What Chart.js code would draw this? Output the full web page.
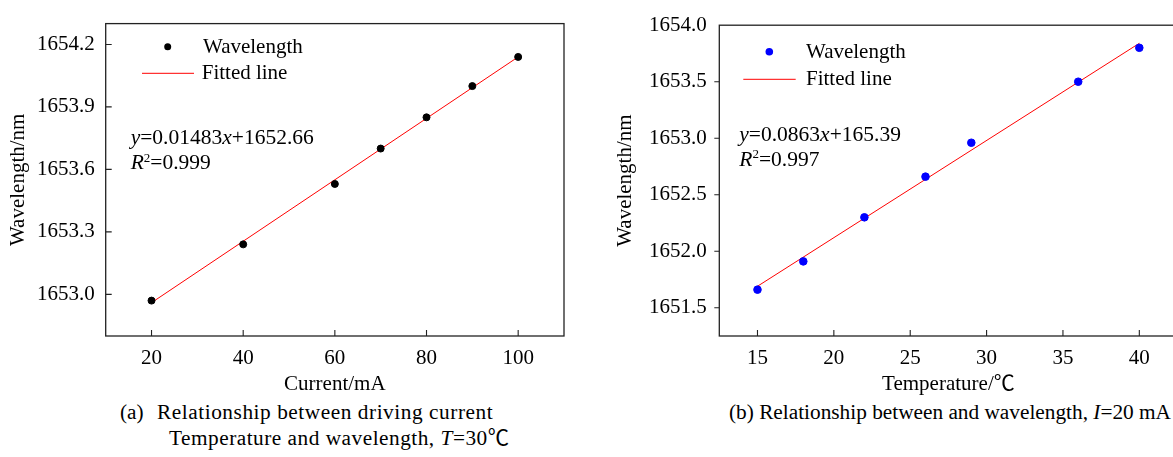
<!DOCTYPE html>
<html>
<head>
<meta charset="utf-8">
<script src="https://cdn.jsdelivr.net/npm/chart.js@4"></script>
<style>
  html, body { margin: 0; padding: 0; background: #fff; overflow: hidden; }
  body { width: 1173px; height: 457px; position: relative; font-family: 'Liberation Serif', 'Noto Sans CJK SC', serif; }
  #chartA { position: absolute; left: 0; top: 0; }
  #chartB { position: absolute; left: 588px; top: 0; }
  .cap { position: absolute; font-size: 21.3px; line-height: 24px; white-space: nowrap; color: #000; }
</style>
</head>
<body>
<canvas id="chartA" width="588" height="400"></canvas>
<canvas id="chartB" width="612" height="400"></canvas>
<div class="cap" style="left:120px; top:400px;">(a)</div>
<div class="cap" style="left:157px; top:400px; letter-spacing:0.55px;">Relationship between driving current</div>
<div class="cap" style="left:169px; top:426px; letter-spacing:0.5px;">Temperature and wavelength, <i>T</i>=30℃</div>
<div class="cap" style="left:729px; top:400px;">(b) Relationship between and wavelength, <i>I</i>=20 mA</div>

<script>
// (a) current sweep
const currentMA = [20, 40, 60, 70, 80, 90, 100];
const wavelengthA = [1652.97, 1653.24, 1653.53, 1653.70, 1653.85, 1654.00, 1654.14];
const fitXA = [20, 100];
const fitYA = [1652.96, 1654.14];
const xTicksA = [20, 40, 60, 80, 100];
const yTicksA = [1653.0, 1653.3, 1653.6, 1653.9, 1654.2];

// (b) temperature sweep
const tempC = [15, 18, 22, 26, 29, 36, 40];
const wavelengthB = [1651.66, 1651.91, 1652.30, 1652.66, 1652.96, 1653.50, 1653.80];
const fitXB = [15, 40];
const fitYB = [1651.69, 1653.84];
const xTicksB = [15, 20, 25, 30, 35, 40];
const yTicksB = [1651.5, 1652.0, 1652.5, 1653.0, 1653.5, 1654.0];

const FONT = "'Liberation Serif', 'Noto Sans CJK SC', serif";
const tickFont = { family: FONT, size: 21 };

const toPoints = (xs, ys) => xs.map((x, i) => ({ x: x, y: ys[i] }));

// box around plot area + tick marks (inward / outward)
const framePlugin = {
  id: 'frame',
  afterDatasetsDraw(chart, args, opts) {
    const { ctx, chartArea: a, scales } = chart;
    ctx.save();
    ctx.strokeStyle = '#222';
    ctx.lineWidth = 1.3;
    ctx.strokeRect(a.left, a.top, a.right - a.left, a.bottom - a.top);
    ctx.lineWidth = 1.1;
    ctx.beginPath();
    scales.x.ticks.forEach(t => {
      const px = scales.x.getPixelForValue(t.value);
      ctx.moveTo(px, a.bottom);
      ctx.lineTo(px, a.bottom - 6);
    });
    scales.y.ticks.forEach(t => {
      const py = scales.y.getPixelForValue(t.value);
      if (Math.abs(py - a.top) < 1) return;
      ctx.moveTo(a.left, py);
      ctx.lineTo(a.left + (opts.yOut ? -5 : 6), py);
    });
    ctx.stroke();
    ctx.restore();
  }
};

// legend and fit equation drawn at fixed spots
const notePlugin = {
  id: 'note',
  afterDraw(chart, args, o) {
    const ctx = chart.ctx;
    ctx.save();
    ctx.textBaseline = 'middle';
    // legend
    ctx.beginPath();
    ctx.arc(o.dot[0], o.dot[1], o.dotR, 0, Math.PI * 2);
    ctx.fillStyle = o.dotColor;
    ctx.fill();
    ctx.strokeStyle = 'red';
    ctx.lineWidth = 1;
    ctx.beginPath();
    ctx.moveTo(o.line[0], o.line[2]);
    ctx.lineTo(o.line[1], o.line[2]);
    ctx.stroke();
    ctx.fillStyle = '#000';
    ctx.font = '21px ' + FONT;
    ctx.fillText('Wavelength', o.text1[0], o.text1[1]);
    ctx.fillText('Fitted line', o.text2[0], o.text2[1]);
    // equation
    const drawParts = (parts, x, y) => {
      parts.forEach(p => {
        const size = p.sup ? 13 : 21.5;
        ctx.font = (p.it ? 'italic ' : '') + size + 'px ' + FONT;
        ctx.fillText(p.t, x, p.sup ? y - 5 : y);
        x += ctx.measureText(p.t).width;
      });
    };
    drawParts([{ t: 'y', it: true }, { t: '=' + o.slope }, { t: 'x', it: true }, { t: '+' + o.icpt }], o.eq[0], o.eq[1]);
    drawParts([{ t: 'R', it: true }, { t: '2', sup: true }, { t: '=' + o.r2 }], o.eq[0], o.eq[1] + 25);
    ctx.restore();
  }
};

function makeChart(id, d) {
  return new Chart(document.getElementById(id), {
    type: 'scatter',
    data: {
      datasets: [
        {
          label: 'Wavelength',
          data: toPoints(d.xs, d.ys),
          backgroundColor: d.dotColor,
          borderColor: d.dotColor,
          pointRadius: d.dotR,
          pointHoverRadius: d.dotR,
        },
        {
          label: 'Fitted line',
          data: toPoints(d.fitX, d.fitY),
          showLine: true,
          borderColor: 'red',
          borderWidth: 1,
          pointRadius: 0,
        },
      ],
    },
    options: {
      responsive: false,
      animation: false,
      events: [],
      layout: { padding: { left: 0, top: 18.3, right: d.padRight, bottom: 0 } },
      plugins: {
        legend: { display: false },
        tooltip: { enabled: false },
        frame: { yOut: d.yOut },
        note: d.note,
      },
      scales: {
        x: {
          type: 'linear',
          min: d.xMin,
          max: d.xMax,
          afterBuildTicks: s => { s.ticks = d.xTicks.map(v => ({ value: v })); },
          afterFit: s => { s.height = 64; },
          grid: { display: false, drawTicks: false },
          border: { display: false },
          ticks: { padding: 10, font: tickFont, color: '#000', maxRotation: 0, autoSkip: false, callback: v => String(v) },
          title: { display: true, text: d.xTitle, font: tickFont, color: '#000', padding: { top: 0, bottom: 3 } },
        },
        y: {
          type: 'linear',
          min: d.yMin,
          max: d.yMax,
          afterBuildTicks: s => { s.ticks = d.yTicks.map(v => ({ value: v })); },
          afterFit: s => { s.width = d.yWidth; },
          grid: { display: false, drawTicks: false },
          border: { display: false },
          ticks: { padding: d.yPad, font: tickFont, color: '#000', autoSkip: false, callback: v => v.toFixed(1) },
          title: { display: true, text: 'Wavelength/nm', font: tickFont, color: '#000', padding: { top: d.yTitlePad, bottom: 0 } },
        },
      },
    },
    plugins: [framePlugin, notePlugin],
  });
}

makeChart('chartA', {
  xs: currentMA, ys: wavelengthA, fitX: fitXA, fitY: fitYA,
  xTicks: xTicksA, yTicks: yTicksA,
  xMin: 10, xMax: 110, yMin: 1652.8, yMax: 1654.3,
  xTitle: 'Current/mA',
  dotColor: '#000', dotR: 3.5,
  padRight: 24, yWidth: 105.7, yPad: 11, yTitlePad: 6, yOut: false,
  note: {
    dot: [167.7, 46.7], dotR: 3.5, dotColor: '#000',
    line: [142, 194, 73.3], text1: [203, 47], text2: [201.7, 73.5],
    eq: [130.7, 138.5], slope: '0.01483', icpt: '1652.66', r2: '0.999',
  },
});

makeChart('chartB', {
  xs: tempC, ys: wavelengthB, fitX: fitXB, fitY: fitYB,
  xTicks: xTicksB, yTicks: yTicksB,
  xMin: 12.5, xMax: 42.5, yMin: 1651.25, yMax: 1654.0,
  xTitle: 'Temperature/℃',
  dotColor: '#0000ff', dotR: 3.8,
  padRight: 22.5, yWidth: 131.3, yPad: 12.6, yTitlePad: 24.8, yOut: true,
  note: {
    dot: [181.3, 51.7], dotR: 3.8, dotColor: '#0000ff',
    line: [155.3, 207.7, 79.3], text1: [218, 52], text2: [218, 79.5],
    eq: [151.3, 135], slope: '0.0863', icpt: '165.39', r2: '0.997',
  },
});
</script>
</body>
</html>
